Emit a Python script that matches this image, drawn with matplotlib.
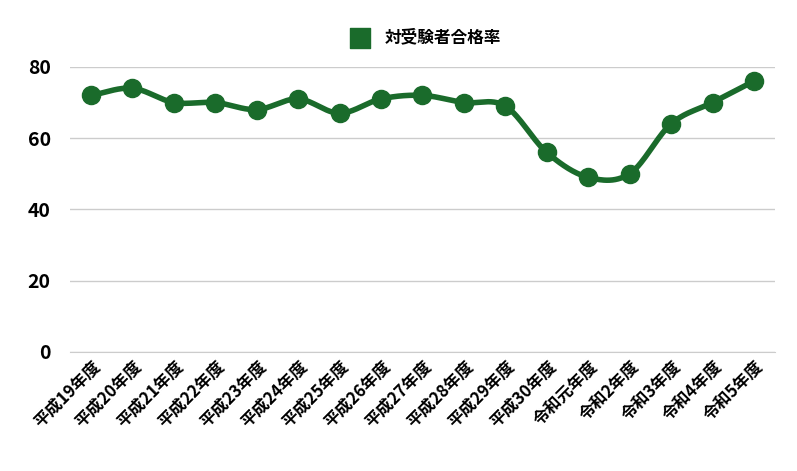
import numpy as np
import matplotlib
matplotlib.use("Agg")
import matplotlib.pyplot as plt

plt.rcParams['font.family'] = ['Noto Sans CJK JP', 'DejaVu Sans']

categories = ["平成19年度","平成20年度","平成21年度","平成22年度","平成23年度","平成24年度",
              "平成25年度","平成26年度","平成27年度","平成28年度","平成29年度","平成30年度",
              "令和元年度","令和2年度","令和3年度","令和4年度","令和5年度"]
values = [72, 74, 70, 70, 68, 71, 67, 71, 72, 70, 69, 56, 49, 50, 64, 70, 76]
series_name = "対受験者合格率"
color = "#1a6b2b"

x = np.arange(len(values), dtype=float)
y = np.array(values, dtype=float)

# Catmull-Rom smoothing for line rendering
xs, ys = [], []
px = np.concatenate([[2*x[0]-x[1]], x, [2*x[-1]-x[-2]]])
py = np.concatenate([[2*y[0]-y[1]], y, [2*y[-1]-y[-2]]])
t = np.linspace(0, 1, 30)
for i in range(1, len(px)-2):
    for P, out in ((px, xs), (py, ys)):
        p0, p1, p2, p3 = P[i-1], P[i], P[i+1], P[i+2]
        out.extend(0.5*((2*p1) + (-p0+p2)*t + (2*p0-5*p1+4*p2-p3)*t**2 + (-p0+3*p1-3*p2+p3)*t**3))

fig = plt.figure(figsize=(7.97, 4.71), dpi=100)
ax = fig.add_axes([0.088, 0.253, 0.884, 0.605])
ax.plot(xs, ys, color=color, lw=4, solid_capstyle='round', zorder=3)
ax.scatter(x, y, s=170, color=color, zorder=4, clip_on=False)
ax.set_xlim(-0.5, len(values)-0.5)
ax.set_ylim(0, 80)
ax.set_yticks([0, 20, 40, 60, 80])
ax.grid(axis='y', color='#cccccc', lw=1)
ax.set_axisbelow(True)
for s in ['top', 'right', 'left']:
    ax.spines[s].set_visible(False)
ax.spines['bottom'].set_color('#cccccc')
ax.tick_params(axis='y', length=0, labelsize=14, pad=14)
ax.tick_params(axis='x', length=0, labelsize=12, pad=4)
ax.set_xticks(x)
ax.set_xticklabels(categories, rotation=45, ha='right', rotation_mode='anchor', fontweight='bold')
for lab in ax.get_yticklabels():
    lab.set_fontweight('bold')
ax.scatter([], [], marker='s', s=200, color=color, label=series_name)
ax.legend(loc='lower center', bbox_to_anchor=(0.5, 1.02), frameon=False,
          prop={'size': 12, 'weight': 'bold'}, handletextpad=0.5)
fig.savefig("out.png", dpi=100)
